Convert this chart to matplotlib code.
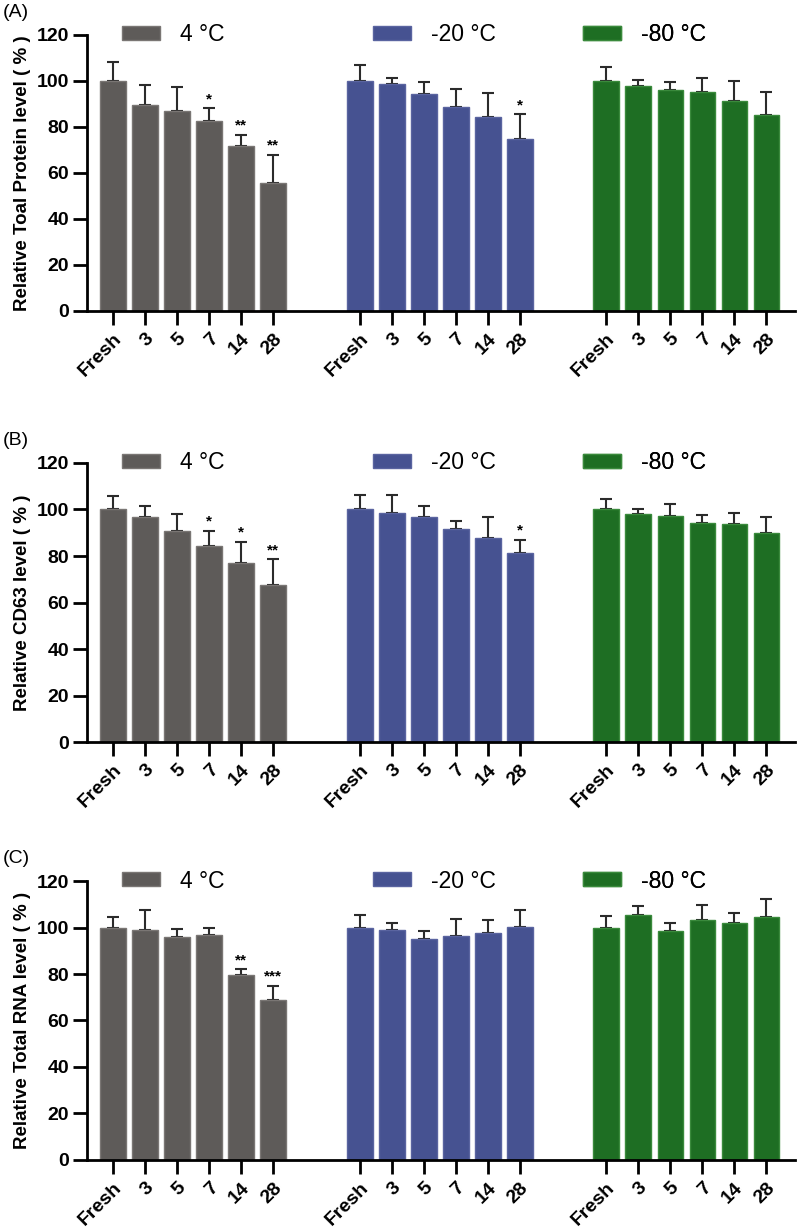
import matplotlib
matplotlib.use('Agg')
import matplotlib.pyplot as plt
import numpy as np

plt.rcParams['font.family'] = ['Liberation Sans', 'DejaVu Sans']

days = ['Fresh', '3', '5', '7', '14', '28']
groups = ['4 °C', '-20 °C', '-80 °C']
colors = ['#5e5b59', '#465291', '#1e6e23']
edges = ['#7a7674', '#5a64a0', '#3a8a3c']
panel_tags = ['(A)', '(B)', '(C)']
ylabels = ['Relative Toal Protein level ( % )',
           'Relative CD63 level ( % )',
           'Relative Total RNA level ( % )']

# panel A: total protein
protein_mean = [[100, 89.5, 86.9, 82.5, 71.6, 55.8],
                [100, 98.7, 94.2, 88.8, 84.4, 74.7],
                [100, 97.9, 96.2, 95.1, 91.3, 85.2]]
protein_err = [[8.2, 8.9, 10.5, 5.6, 4.8, 11.9],
               [7.1, 2.6, 5.4, 7.7, 10.2, 10.8],
               [6.1, 2.4, 3.4, 6.1, 8.7, 10.0]]
protein_sig = [['', '', '', '*', '**', '**'],
               ['', '', '', '', '', '*'],
               ['', '', '', '', '', '']]

# panel B: CD63
cd63_mean = [[100, 96.7, 90.6, 84.5, 77.2, 67.7],
             [100, 98.6, 96.7, 91.6, 87.9, 81.5],
             [100, 98.0, 97.0, 94.4, 93.8, 89.9]]
cd63_err = [[5.9, 4.9, 7.4, 6.4, 8.8, 10.8],
            [6.4, 7.8, 4.9, 3.3, 8.9, 5.5],
            [4.6, 2.4, 5.3, 3.4, 4.8, 6.9]]
cd63_sig = [['', '', '', '*', '*', '**'],
            ['', '', '', '', '', '*'],
            ['', '', '', '', '', '']]

# panel C: total RNA
rna_mean = [[100, 99.1, 95.8, 96.9, 79.7, 68.8],
            [100, 98.9, 95.2, 96.3, 97.6, 100.2],
            [99.9, 105.4, 98.4, 103.2, 101.8, 104.6]]
rna_err = [[4.6, 8.3, 3.6, 3.0, 2.3, 6.0],
           [5.4, 3.0, 3.4, 7.4, 5.5, 7.2],
           [5.2, 4.0, 3.5, 6.3, 4.6, 7.5]]
rna_sig = [['', '', '', '', '**', '***'],
           ['', '', '', '', '', ''],
           ['', '', '', '', '', '']]

means = [protein_mean, cd63_mean, rna_mean]
errs = [protein_err, cd63_err, rna_err]
sigs = [protein_sig, cd63_sig, rna_sig]

fig = plt.figure(figsize=(8, 12.31), dpi=100)
axes_boxes = [[0.109, 0.7474, 0.885, 0.2242],
              [0.109, 0.3972, 0.885, 0.2267],
              [0.109, 0.0577, 0.885, 0.2266]]
group_gap = 7.7
legend_x = [0.049, 0.404, 0.700]

for p in range(3):
    ax = fig.add_axes(axes_boxes[p])
    ticks = []
    for g in range(3):
        x = np.arange(len(days)) + g * group_gap
        ticks.extend(x)
        bars = ax.bar(x, means[p][g], width=0.8, color=colors[g],
                      edgecolor=edges[g], linewidth=1, label=groups[g], zorder=2)
        ax.errorbar(x, means[p][g], yerr=[np.zeros(6), errs[p][g]], fmt='none',
                    ecolor='#2b2b2b', elinewidth=1.5, capsize=4.5, capthick=1.5, zorder=1)
        for xi, m, e, s in zip(x, means[p][g], errs[p][g], sigs[p][g]):
            if s:
                ax.text(xi, m + e + 1.0, s, ha='center', va='bottom',
                        fontsize=11, fontweight='bold')
        leg = ax.legend(handles=[bars], loc='center left',
                        bbox_to_anchor=(legend_x[g], 1.0), frameon=False,
                        fontsize=16.5, handlelength=1.66, handleheight=0.57,
                        handletextpad=0.87, borderpad=0, borderaxespad=0)
        ax.add_artist(leg)

    ax.set_xlim(-0.81, 21.3)
    ax.set_ylim(0, 120)
    ax.set_yticks([0, 20, 40, 60, 80, 100, 120])
    ax.set_xticks(ticks)
    ax.set_xticklabels(days * 3, rotation=45, ha='right', rotation_mode='anchor')
    for lab in ax.get_yticklabels():
        lab.set_fontweight('bold')
        lab.set_fontsize(14)
    for lab in ax.get_xticklabels():
        lab.set_fontweight('bold')
        lab.set_fontsize(14)
    ax.tick_params(axis='y', length=10, width=2, pad=3)
    ax.tick_params(axis='x', length=10, width=2, pad=4)
    ax.spines['top'].set_visible(False)
    ax.spines['right'].set_visible(False)
    ax.spines['left'].set_linewidth(2)
    ax.spines['bottom'].set_linewidth(2)
    ax.set_ylabel(ylabels[p], fontsize=13.5, fontweight='bold', labelpad=4)
    ax.annotate(panel_tags[p], xy=(0, 1), xycoords='axes fraction',
                xytext=(-61, 22), textcoords='offset points',
                fontsize=14, ha='left', va='top')

fig.savefig('out.png', dpi=100)
